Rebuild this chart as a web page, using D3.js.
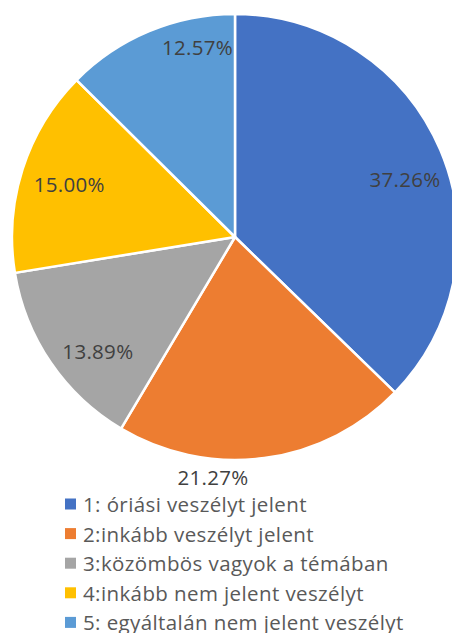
<!DOCTYPE html>
<html>
<head>
<meta charset="utf-8">
<script src="https://cdn.jsdelivr.net/npm/d3@7/dist/d3.min.js"></script>
<style>
  html, body { margin: 0; padding: 0; background: #fff; }
  svg { display: block; }
  text { font-family: "Open Sans", "Noto Sans", sans-serif; }
</style>
</head>
<body>
<svg id="chart" width="452" height="633"></svg>
<script>
// Survey answers and their shares (%)
const categories = [
  "1: óriási veszélyt jelent",
  "2:inkább veszélyt jelent",
  "3:közömbös vagyok a témában",
  "4:inkább nem jelent veszélyt",
  "5: egyáltalán nem jelent veszélyt"
];
const values = [37.26, 21.27, 13.89, 15.00, 12.57];
const colors = ["#4472C4", "#ED7D31", "#A5A5A5", "#FFC000", "#5B9BD5"];

const W = 452, H = 633;
const cx = 235, cy = 237, R = 223;

// Label placement: angle nudge (degrees) and radius factor per slice
const labelLayout = [
  { da: 4.2, rf: 0.805 },
  { da: 12.8, rf: 1.08 },
  { da: -5.5, rf: 0.80 },
  { da: 0, rf: 0.78 },
  { da: 11.5, rf: 0.87 }
];

const svg = d3.select("#chart");

const pie = d3.pie().sort(null).value(d => d);
const arcs = pie(values);
const arc = d3.arc().innerRadius(0).outerRadius(R);

const g = svg.append("g").attr("transform", `translate(${cx},${cy})`);

g.selectAll("path.slice")
  .data(arcs)
  .join("path")
  .attr("class", "slice")
  .attr("d", arc)
  .attr("fill", (d, i) => colors[i])
  .attr("stroke", "#fff")
  .attr("stroke-width", 2.5)
  .attr("stroke-linejoin", "round");

const fmt = d3.format(".2f");
g.selectAll("text.lbl")
  .data(arcs)
  .join("text")
  .attr("class", "lbl")
  .attr("transform", (d, i) => {
    const a = (d.startAngle + d.endAngle) / 2 + labelLayout[i].da * Math.PI / 180;
    const r = R * labelLayout[i].rf;
    return `translate(${r * Math.sin(a)},${-r * Math.cos(a)})`;
  })
  .attr("text-anchor", "middle")
  .attr("dominant-baseline", "central")
  .attr("font-size", 20.5)
  .attr("letter-spacing", 0.3)
  .attr("fill", "#404040")
  .text(d => fmt(d.value) + "%");

// Legend
const legend = svg.append("g").attr("transform", "translate(65,504)");
const rowH = 29.6;
const rows = legend.selectAll("g.row")
  .data(categories)
  .join("g")
  .attr("class", "row")
  .attr("transform", (d, i) => `translate(0,${i * rowH})`);

rows.append("rect")
  .attr("x", 0).attr("y", -5.5)
  .attr("width", 11).attr("height", 11)
  .attr("fill", (d, i) => colors[i]);

rows.append("text")
  .attr("x", 18)
  .attr("y", 0)
  .attr("dominant-baseline", "central")
  .attr("font-size", 20.5)
  .attr("letter-spacing", 0.4)
  .attr("fill", "#595959")
  .text(d => d);
</script>
</body>
</html>
